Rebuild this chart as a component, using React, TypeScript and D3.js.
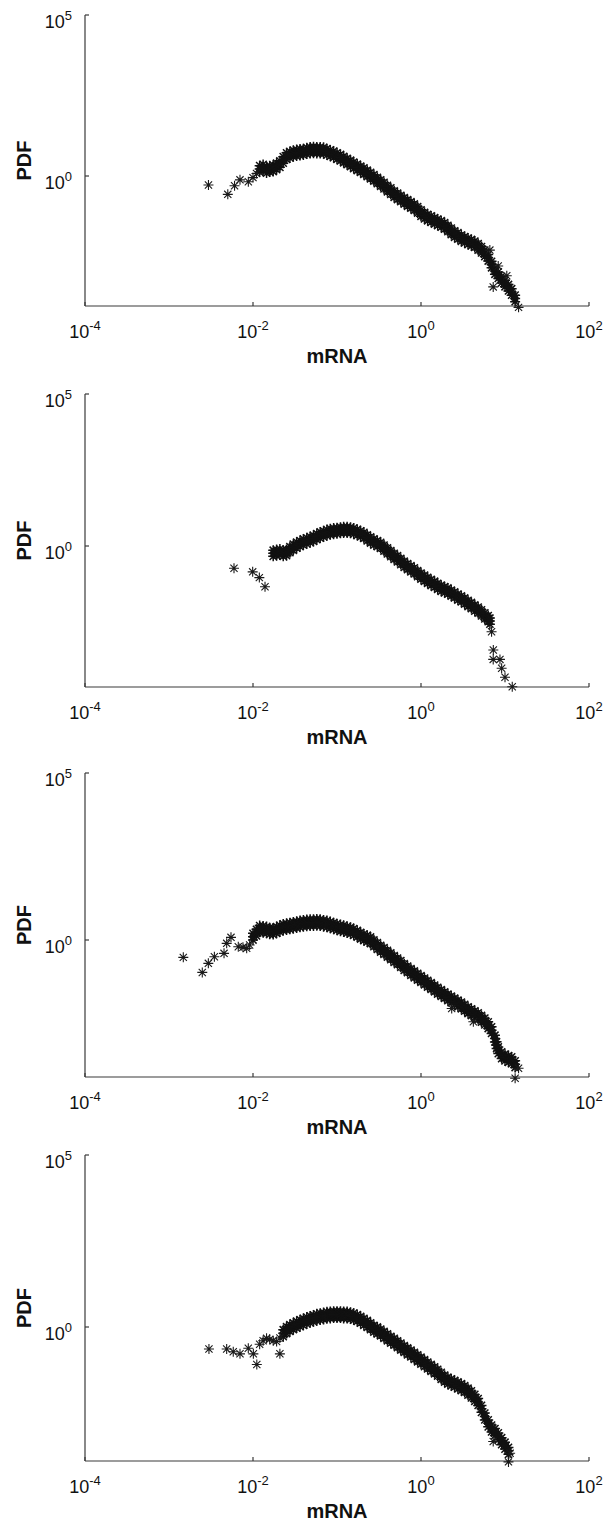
import React from "react";
import * as d3 from "d3";

// ---------- data ----------
const xTicks = [1e-4, 1e-2, 1e0, 1e2];
const xTickExp = ["-4", "-2", "0", "2"];
const yTicks = [1e0, 1e5];
const yTickExp = ["0", "5"];

// Panel 1 — dense band: centre line, upper edge and lower edge readings
const mrna1 = [
  0.0120, 0.0132, 0.0145, 0.0158, 0.0174, 0.0191, 0.0209, 0.0229, 0.0251, 0.0275, 0.0302, 0.0331,
  0.0363, 0.0398, 0.0437, 0.0479, 0.0525, 0.0575, 0.0631, 0.0692, 0.0759, 0.0832, 0.0912,
  0.100, 0.110, 0.120, 0.132, 0.145, 0.158, 0.174, 0.191, 0.209, 0.229, 0.251, 0.275, 0.302,
  0.331, 0.363, 0.398, 0.437, 0.479, 0.525, 0.575, 0.631, 0.692, 0.759, 0.832, 0.912,
  1.00, 1.10, 1.20, 1.32, 1.45, 1.58, 1.74, 1.91, 2.09, 2.29, 2.51, 2.75, 3.02,
  3.31, 3.63, 3.98, 4.37, 4.79, 5.25, 5.75, 6.31, 6.92, 7.59, 8.32, 9.12,
  10.0, 11.0, 12.0, 13.2,
];
const pdf1 = [
  1.66, 1.82, 1.55, 1.66, 1.74, 2.00, 2.34, 3.16, 4.17, 4.57, 5.01, 5.25,
  5.50, 5.62, 6.03, 6.31, 6.46, 6.31, 6.31, 6.17, 5.62, 5.13, 4.68,
  4.17, 3.72, 3.24, 2.82, 2.45, 2.14, 1.86, 1.62, 1.41, 1.20, 1.02, 0.871, 0.724,
  0.603, 0.501, 0.407, 0.339, 0.275, 0.234, 0.200, 0.170, 0.145, 0.126, 0.107, 0.0891,
  0.0708, 0.0589, 0.0513, 0.0457, 0.0407, 0.0363, 0.0324, 0.0282, 0.0234, 0.0191, 0.0158, 0.0138, 0.0117,
  0.0105, 0.00933, 0.00851, 0.00759, 0.00631, 0.00513, 0.00398, 0.00288, 0.00178, 0.00112, 0.000832, 0.000603,
  0.000457, 0.000339, 0.000251, 0.000158,
];
const pdf1Upper = [
  2.09, 2.29, 1.95, 2.09, 2.19, 2.52, 2.95, 3.98, 5.25, 5.76, 6.31, 6.61,
  6.93, 7.08, 7.60, 7.95, 8.14, 7.95, 7.95, 7.77, 7.08, 6.46, 5.90,
  5.25, 4.69, 4.08, 3.55, 3.09, 2.70, 2.34, 2.04, 1.78, 1.51, 1.29, 1.10, 0.912,
  0.760, 0.631, 0.513, 0.427, 0.347, 0.295, 0.252, 0.214, 0.183, 0.159, 0.135, 0.112,
  0.0892, 0.0742, 0.0646, 0.0576, 0.0513, 0.0457, 0.0408, 0.0355, 0.0295, 0.0241, 0.0199, 0.0174, 0.0147,
  0.0132, 0.0118, 0.0107, 0.00956, 0.00795, 0.00646, 0.00501, 0.00363, 0.00224, 0.00141, 0.00105, 0.000760,
  0.000576, 0.000427, 0.000316, 0.000199,
];
const pdf1Lower = [
  1.32, 1.45, 1.23, 1.32, 1.38, 1.59, 1.86, 2.51, 3.31, 3.63, 3.98, 4.17,
  4.37, 4.46, 4.79, 5.01, 5.13, 5.01, 5.01, 4.90, 4.46, 4.07, 3.72,
  3.31, 2.95, 2.57, 2.24, 1.95, 1.70, 1.48, 1.29, 1.12, 0.953, 0.810, 0.692, 0.575,
  0.479, 0.398, 0.323, 0.269, 0.218, 0.186, 0.159, 0.135, 0.115, 0.100, 0.0850, 0.0708,
  0.0562, 0.0468, 0.0407, 0.0363, 0.0323, 0.0288, 0.0257, 0.0224, 0.0186, 0.0152, 0.0125, 0.0110, 0.00929,
  0.00834, 0.00741, 0.00676, 0.00603, 0.00501, 0.00407, 0.00316, 0.00229, 0.00141, 0.000889, 0.000661, 0.000479,
  0.000363, 0.000269, 0.000199, 0.000125,
];
const mrna1Single = [0.00295, 0.00501, 0.00603, 0.0070, 0.0088, 0.0100, 0.0110, 14.5, 7.24, 6.6, 8.3, 10.5];
const pdf1Single = [0.525, 0.269, 0.50, 0.76, 0.66, 0.891, 1.20, 0.0000832, 0.00036, 0.005, 0.0016, 0.0008];

// Panel 2
const mrna2 = [
  0.0174, 0.0191, 0.0209, 0.0229, 0.0251, 0.0275, 0.0302, 0.0331, 0.0363, 0.0398, 0.0437, 0.0479,
  0.0525, 0.0575, 0.0631, 0.0692, 0.0759, 0.0832, 0.0912,
  0.100, 0.110, 0.120, 0.132, 0.145, 0.158, 0.174, 0.191, 0.209, 0.229, 0.251, 0.275, 0.302,
  0.331, 0.363, 0.398, 0.437, 0.479, 0.525, 0.575, 0.631, 0.692, 0.759, 0.832, 0.912,
  1.00, 1.10, 1.20, 1.32, 1.45, 1.58, 1.74, 1.91, 2.09, 2.29, 2.51, 2.75, 3.02,
  3.31, 3.63, 3.98, 4.37, 4.79, 5.25, 5.75, 6.31, 6.61,
];
const pdf2 = [
  0.575, 0.603, 0.631, 0.575, 0.603, 0.759, 0.912, 1.07, 1.20, 1.35, 1.48, 1.62,
  1.78, 2.04, 2.29, 2.51, 2.75, 2.95, 3.09,
  3.16, 3.31, 3.39, 3.39, 3.31, 3.09, 2.82, 2.51, 2.24, 1.86, 1.58, 1.35, 1.20,
  1.05, 0.851, 0.692, 0.562, 0.457, 0.380, 0.309, 0.251, 0.209, 0.178, 0.151, 0.123,
  0.102, 0.0871, 0.0741, 0.0631, 0.0550, 0.0468, 0.0407, 0.0363, 0.0331, 0.0282, 0.0245, 0.0209, 0.0182,
  0.0155, 0.0129, 0.0110, 0.00912, 0.00776, 0.00631, 0.00501, 0.00407, 0.00339,
];
const pdf2Upper = [
  0.725, 0.760, 0.795, 0.725, 0.760, 0.956, 1.15, 1.35, 1.51, 1.70, 1.86, 2.04,
  2.24, 2.57, 2.89, 3.16, 3.47, 3.72, 3.89,
  3.98, 4.17, 4.27, 4.27, 4.17, 3.89, 3.55, 3.16, 2.82, 2.34, 1.99, 1.70, 1.51,
  1.32, 1.07, 0.872, 0.708, 0.576, 0.479, 0.389, 0.316, 0.263, 0.224, 0.190, 0.155,
  0.129, 0.110, 0.0934, 0.0795, 0.0693, 0.0590, 0.0513, 0.0457, 0.0417, 0.0355, 0.0309, 0.0263, 0.0229,
  0.0195, 0.0163, 0.0139, 0.0115, 0.00978, 0.00795, 0.00631, 0.00513, 0.00427,
];
const pdf2Lower = [
  0.457, 0.479, 0.501, 0.457, 0.479, 0.603, 0.724, 0.850, 0.953, 1.07, 1.18, 1.29,
  1.41, 1.62, 1.82, 1.99, 2.18, 2.34, 2.45,
  2.51, 2.63, 2.69, 2.69, 2.63, 2.45, 2.24, 1.99, 1.78, 1.48, 1.25, 1.07, 0.953,
  0.834, 0.676, 0.549, 0.446, 0.363, 0.302, 0.245, 0.199, 0.166, 0.141, 0.120, 0.0977,
  0.0810, 0.0692, 0.0588, 0.0501, 0.0437, 0.0372, 0.0323, 0.0288, 0.0263, 0.0224, 0.0195, 0.0166, 0.0145,
  0.0123, 0.0102, 0.00873, 0.00724, 0.00616, 0.00501, 0.00398, 0.00323, 0.00269,
];
const mrna2Single = [0.00594, 0.00991, 0.0119, 0.0139, 6.92, 7.26, 7.24, 8.71, 9.12, 10.0, 12.2];
const pdf2Single = [0.186, 0.141, 0.0912, 0.0457, 0.00151, 0.00038, 0.000186, 0.000186, 0.0000955, 0.0000479, 0.0000234];

// Panel 3
const mrna3 = [
  0.0100, 0.0110, 0.0120, 0.0132, 0.0145, 0.0158, 0.0174, 0.0191, 0.0209, 0.0229, 0.0251, 0.0275,
  0.0302, 0.0331, 0.0363, 0.0398, 0.0437, 0.0479, 0.0525, 0.0575, 0.0631, 0.0692, 0.0759, 0.0832, 0.0912,
  0.100, 0.110, 0.120, 0.132, 0.145, 0.158, 0.174, 0.191, 0.209, 0.229, 0.251, 0.275, 0.302,
  0.331, 0.363, 0.398, 0.437, 0.479, 0.525, 0.575, 0.631, 0.692, 0.759, 0.832, 0.912,
  1.00, 1.10, 1.20, 1.32, 1.45, 1.58, 1.74, 1.91, 2.09, 2.29, 2.51, 2.75, 3.02,
  3.31, 3.63, 3.98, 4.37, 4.79, 5.25, 5.75, 6.31, 6.92, 7.59, 7.94, 8.32, 9.12,
  10.0, 11.0, 12.0, 13.2,
];
const pdf3 = [
  1.26, 1.66, 2.14, 2.09, 2.00, 1.86, 1.82, 2.00, 2.19, 2.40, 2.51, 2.63,
  2.75, 2.88, 3.02, 3.16, 3.24, 3.31, 3.31, 3.39, 3.31, 3.16, 3.02, 2.82, 2.63,
  2.45, 2.29, 2.19, 2.04, 1.91, 1.74, 1.55, 1.35, 1.20, 1.10, 0.977, 0.794, 0.661,
  0.550, 0.468, 0.389, 0.324, 0.269, 0.229, 0.191, 0.155, 0.132, 0.110, 0.0933, 0.0794,
  0.0676, 0.0575, 0.0490, 0.0417, 0.0355, 0.0302, 0.0257, 0.0224, 0.0191, 0.0166, 0.0145, 0.0126, 0.0110,
  0.00933, 0.00794, 0.00692, 0.00603, 0.00525, 0.00437, 0.00363, 0.00282, 0.00200, 0.00112, 0.000708, 0.000501, 0.000355,
  0.000302, 0.000275, 0.000251, 0.000191,
];
const pdf3Upper = [
  1.59, 2.09, 2.70, 2.63, 2.52, 2.34, 2.29, 2.52, 2.76, 3.02, 3.16, 3.31,
  3.47, 3.63, 3.81, 3.98, 4.08, 4.17, 4.17, 4.27, 4.17, 3.98, 3.81, 3.55, 3.31,
  3.09, 2.89, 2.76, 2.57, 2.41, 2.19, 1.95, 1.70, 1.51, 1.39, 1.23, 1.00, 0.833,
  0.693, 0.590, 0.490, 0.408, 0.339, 0.289, 0.241, 0.195, 0.166, 0.139, 0.118, 0.100,
  0.0852, 0.0725, 0.0617, 0.0525, 0.0447, 0.0381, 0.0324, 0.0282, 0.0241, 0.0209, 0.0183, 0.0159, 0.0139,
  0.0118, 0.0100, 0.00872, 0.00760, 0.00662, 0.00551, 0.00457, 0.00355, 0.00252, 0.00141, 0.000892, 0.000631, 0.000447,
  0.000381, 0.000347, 0.000316, 0.000241,
];
const pdf3Lower = [
  1.00, 1.32, 1.70, 1.66, 1.59, 1.48, 1.45, 1.59, 1.74, 1.91, 1.99, 2.09,
  2.18, 2.29, 2.40, 2.51, 2.57, 2.63, 2.63, 2.69, 2.63, 2.51, 2.40, 2.24, 2.09,
  1.95, 1.82, 1.74, 1.62, 1.52, 1.38, 1.23, 1.07, 0.953, 0.873, 0.776, 0.630, 0.525,
  0.437, 0.372, 0.309, 0.257, 0.214, 0.182, 0.152, 0.123, 0.105, 0.0873, 0.0741, 0.0630,
  0.0537, 0.0457, 0.0389, 0.0331, 0.0282, 0.0240, 0.0204, 0.0178, 0.0152, 0.0132, 0.0115, 0.0100, 0.00873,
  0.00741, 0.00630, 0.00549, 0.00479, 0.00417, 0.00347, 0.00288, 0.00224, 0.00159, 0.000889, 0.000562, 0.000398, 0.000282,
  0.000240, 0.000218, 0.000199, 0.000152,
];
const mrna3Single = [
  0.00148, 0.00249, 0.00294, 0.00347, 0.00452, 0.00486, 0.00547, 0.00668, 0.00841,
  0.00759, 0.00912, 14.5, 13.2, 2.32, 4.20,
];
const pdf3Single = [
  0.302, 0.107, 0.200, 0.316, 0.398, 0.794, 1.20, 0.631, 0.562,
  0.603, 0.708, 0.000145, 0.0000724, 0.00891, 0.00355,
];

// Panel 4
const mrna4 = [
  0.0229, 0.0251, 0.0275, 0.0302, 0.0331, 0.0363, 0.0398, 0.0437, 0.0479, 0.0525, 0.0575, 0.0631,
  0.0692, 0.0759, 0.0832, 0.0912,
  0.100, 0.110, 0.120, 0.132, 0.145, 0.158, 0.174, 0.191, 0.209, 0.229, 0.251, 0.275, 0.302,
  0.331, 0.363, 0.398, 0.437, 0.479, 0.525, 0.575, 0.631, 0.692, 0.759, 0.832, 0.912,
  1.00, 1.10, 1.20, 1.32, 1.45, 1.58, 1.74, 1.91, 2.09, 2.29, 2.51, 2.75, 3.02,
  3.31, 3.63, 3.98, 4.37, 4.79, 5.25, 5.75, 6.31, 6.92, 7.59, 8.32, 9.12,
  10.0, 11.0,
];
const pdf4 = [
  0.661, 0.813, 0.933, 1.05, 1.17, 1.29, 1.41, 1.55, 1.66, 1.78, 1.91, 2.00,
  2.09, 2.19, 2.24, 2.29,
  2.29, 2.29, 2.24, 2.24, 2.14, 2.00, 1.82, 1.62, 1.41, 1.23, 1.05, 0.891, 0.794,
  0.692, 0.589, 0.501, 0.427, 0.372, 0.316, 0.269, 0.229, 0.195, 0.170, 0.145, 0.123,
  0.105, 0.0891, 0.0759, 0.0646, 0.0550, 0.0468, 0.0380, 0.0316, 0.0275, 0.0245, 0.0224, 0.0200, 0.0178,
  0.0158, 0.0132, 0.0110, 0.00871, 0.00661, 0.00417, 0.00251, 0.00158, 0.00112, 0.000891, 0.000661, 0.000479,
  0.000355, 0.000251,
];
const pdf4Upper = [
  0.833, 1.02, 1.18, 1.32, 1.47, 1.63, 1.78, 1.95, 2.09, 2.24, 2.41, 2.52,
  2.63, 2.76, 2.82, 2.89,
  2.89, 2.89, 2.82, 2.82, 2.70, 2.52, 2.29, 2.04, 1.78, 1.55, 1.32, 1.12, 1.00,
  0.872, 0.742, 0.631, 0.538, 0.469, 0.398, 0.339, 0.289, 0.246, 0.214, 0.183, 0.155,
  0.132, 0.112, 0.0956, 0.0814, 0.0693, 0.0590, 0.0479, 0.0398, 0.0347, 0.0309, 0.0282, 0.0252, 0.0224,
  0.0199, 0.0166, 0.0139, 0.0110, 0.00833, 0.00525, 0.00316, 0.00199, 0.00141, 0.00112, 0.000833, 0.000604,
  0.000447, 0.000316,
];
const pdf4Lower = [
  0.525, 0.646, 0.741, 0.834, 0.929, 1.02, 1.12, 1.23, 1.32, 1.41, 1.52, 1.59,
  1.66, 1.74, 1.78, 1.82,
  1.82, 1.82, 1.78, 1.78, 1.70, 1.59, 1.45, 1.29, 1.12, 0.977, 0.834, 0.708, 0.630,
  0.549, 0.468, 0.398, 0.339, 0.295, 0.251, 0.214, 0.182, 0.155, 0.135, 0.115, 0.0977,
  0.0834, 0.0708, 0.0603, 0.0513, 0.0437, 0.0372, 0.0302, 0.0251, 0.0218, 0.0195, 0.0178, 0.0159, 0.0141,
  0.0125, 0.0105, 0.00873, 0.00692, 0.00525, 0.00331, 0.00199, 0.00125, 0.000889, 0.000707, 0.000525, 0.000380,
  0.000282, 0.000199,
];
const mrna4Single = [
  0.00299, 0.00486, 0.00582, 0.00700, 0.00879, 0.0101, 0.0111, 0.0209,
  0.0120, 0.0132, 0.0145, 0.0158, 0.0174, 0.0191, 0.0209, 11.5, 11.0, 7.24,
];
const pdf4Single = [
  0.229, 0.229, 0.191, 0.166, 0.240, 0.166, 0.0813, 0.166,
  0.316, 0.398, 0.468, 0.437, 0.398, 0.380, 0.479, 0.000214, 0.000120, 0.000468,
];

const panels = [
  { x: mrna1, mid: pdf1, hi: pdf1Upper, lo: pdf1Lower, sx: mrna1Single, sy: pdf1Single },
  { x: mrna2, mid: pdf2, hi: pdf2Upper, lo: pdf2Lower, sx: mrna2Single, sy: pdf2Single },
  { x: mrna3, mid: pdf3, hi: pdf3Upper, lo: pdf3Lower, sx: mrna3Single, sy: pdf3Single },
  { x: mrna4, mid: pdf4, hi: pdf4Upper, lo: pdf4Lower, sx: mrna4Single, sy: pdf4Single },
];

// ---------- layout ----------
const W = 611;
const H = 1528;
const AX_LEFT = 85;
const AX_RIGHT = 589;
const panelLayout = [
  { top: 15, zero: 176, bottom: 306 },
  { top: 394, zero: 546, bottom: 687 },
  { top: 773, zero: 940, bottom: 1077 },
  { top: 1155, zero: 1327, bottom: 1461 },
];
const FONT = "'Liberation Sans', Arial, Helvetica, sans-serif";
const AXIS_COLOR = "#3a3a3a";
const MARK = "M-5,0H5M0,-5V5M-3.6,-3.6L3.6,3.6M-3.6,3.6L3.6,-3.6";

function Panel({ idx }: { idx: number }) {
  const L = panelLayout[idx];
  const d = panels[idx];
  const xs = d3.scaleLog().domain([1e-4, 1e2]).range([AX_LEFT, AX_RIGHT]);
  const ys = d3.scaleLog().domain([1e0, 1e5]).range([L.zero, L.top]);
  const band: [number, number][] = [];
  d.x.forEach((v, i) => {
    band.push([xs(v), ys(d.hi[i])]);
    band.push([xs(v), ys(d.lo[i])]);
    band.push([xs(v), ys(d.mid[i])]);
  });
  const singles: [number, number][] = d.sx.map((v, i) => [xs(v), ys(d.sy[i])]);
  const midY = (L.top + L.bottom) / 2;
  return (
    <g>
      <line x1={AX_LEFT} x2={AX_LEFT} y1={L.top} y2={L.bottom} stroke={AXIS_COLOR} strokeWidth={1.2} />
      <line x1={AX_LEFT} x2={AX_RIGHT} y1={L.bottom} y2={L.bottom} stroke={AXIS_COLOR} strokeWidth={1.2} />
      {xTicks.map((t, i) => (
        <g key={"xt" + i}>
          <line x1={xs(t)} x2={xs(t)} y1={L.bottom} y2={L.bottom - 4} stroke={AXIS_COLOR} strokeWidth={1.2} />
          <text x={xs(t)} y={L.bottom + 32} textAnchor="middle" fontFamily={FONT} fontSize={18} fill="#111">
            10<tspan dy={-8} fontSize={13}>{xTickExp[i]}</tspan>
          </text>
        </g>
      ))}
      {yTicks.map((t, i) => (
        <g key={"yt" + i}>
          <line x1={AX_LEFT} x2={AX_LEFT + 4} y1={ys(t)} y2={ys(t)} stroke={AXIS_COLOR} strokeWidth={1.2} />
          <text x={72} y={ys(t) + 13} textAnchor="end" fontFamily={FONT} fontSize={18} fill="#111">
            10<tspan dy={-8} fontSize={13}>{yTickExp[i]}</tspan>
          </text>
        </g>
      ))}
      <text x={(AX_LEFT + AX_RIGHT) / 2} y={L.bottom + 57} textAnchor="middle" fontFamily={FONT} fontSize={20} fontWeight="bold" fill="#111">
        mRNA
      </text>
      <text transform={`translate(31,${midY}) rotate(-90)`} textAnchor="middle" fontFamily={FONT} fontSize={20} fontWeight="bold" fill="#111">
        PDF
      </text>
      {band.map((p, i) => (
        <path key={"b" + i} d={MARK} transform={`translate(${p[0]},${p[1]})`} stroke="#111" strokeWidth={1.5} fill="none" />
      ))}
      {singles.map((p, i) => (
        <path key={"s" + i} d={MARK} transform={`translate(${p[0]},${p[1]})`} stroke="#1a1a1a" strokeWidth={1.1} fill="none" />
      ))}
    </g>
  );
}

export default function App() {
  return (
    <div style={{ position: "absolute", left: 0, top: 0, width: W, height: H, background: "#fff" }}>
      <svg width={W} height={H} viewBox={`0 0 ${W} ${H}`} style={{ display: "block" }}>
        <rect width={W} height={H} fill="#fff" />
        {panelLayout.map((_, i) => (
          <Panel key={i} idx={i} />
        ))}
      </svg>
    </div>
  );
}
